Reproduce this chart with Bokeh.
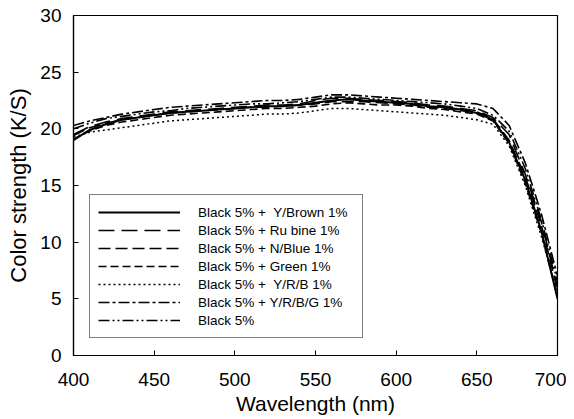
from bokeh.plotting import figure
from bokeh.models import Legend, LegendItem, Range1d, FixedTicker
from bokeh.embed import file_html
from bokeh.resources import INLINE

wavelength = list(range(400, 701, 10))

y_brown = [19.0, 19.9, 20.4, 20.8, 21.0, 21.2, 21.4, 21.5, 21.6, 21.7, 21.8,
           21.9, 22.0, 22.0, 22.1, 22.3, 22.5, 22.6, 22.5, 22.4, 22.3,
           22.2, 22.0, 21.9, 21.7, 21.4, 20.8, 18.8, 15.5, 11.0, 5.0]
rubine = [19.5, 20.2, 20.6, 20.9, 21.1, 21.3, 21.5, 21.6, 21.7, 21.8, 21.9,
          22.0, 22.1, 22.1, 22.2, 22.5, 22.7, 22.7, 22.6, 22.5, 22.4,
          22.3, 22.1, 22.0, 21.8, 21.6, 21.0, 19.5, 16.0, 11.8, 6.0]
n_blue = [19.4, 20.1, 20.5, 20.8, 21.0, 21.2, 21.4, 21.5, 21.6, 21.7, 21.8,
          21.9, 21.9, 22.0, 22.1, 22.2, 22.4, 22.4, 22.4, 22.3, 22.2,
          22.1, 21.9, 21.8, 21.6, 21.5, 20.9, 19.0, 15.8, 11.5, 5.8]
green = [19.1, 19.8, 20.3, 20.6, 20.8, 21.0, 21.2, 21.3, 21.4, 21.5, 21.6,
         21.7, 21.8, 21.8, 21.9, 22.0, 22.2, 22.3, 22.2, 22.1, 22.1,
         22.0, 21.8, 21.7, 21.5, 21.3, 20.7, 18.7, 15.2, 10.8, 5.2]
yrb = [19.3, 19.7, 19.9, 20.1, 20.3, 20.5, 20.7, 20.8, 20.9, 21.0, 21.1,
       21.2, 21.3, 21.3, 21.4, 21.6, 21.8, 21.8, 21.7, 21.6, 21.5,
       21.4, 21.3, 21.2, 21.0, 20.8, 20.4, 18.5, 15.0, 10.5, 5.5]
yrbg = [20.3, 20.7, 21.0, 21.3, 21.5, 21.7, 21.9, 22.0, 22.1, 22.2, 22.3,
        22.4, 22.5, 22.5, 22.6, 22.8, 23.0, 23.0, 22.9, 22.8, 22.7,
        22.6, 22.5, 22.4, 22.3, 22.2, 21.8, 20.3, 17.0, 12.5, 7.0]
black5 = [20.0, 20.5, 20.9, 21.1, 21.3, 21.5, 21.6, 21.8, 21.9, 22.0, 22.1,
          22.2, 22.2, 22.3, 22.4, 22.6, 22.8, 22.8, 22.7, 22.6, 22.5,
          22.4, 22.3, 22.2, 22.0, 21.8, 21.2, 19.8, 16.5, 12.0, 6.5]

labels = ["Black 5% +  Y/Brown 1%", "Black 5% + Ru bine 1%", "Black 5% + N/Blue 1%",
          "Black 5% + Green 1%", "Black 5% +  Y/R/B 1%", "Black 5% + Y/R/B/G 1%",
          "Black 5%"]
series = [y_brown, rubine, n_blue, green, yrb, yrbg, black5]
dashes = ["solid", "16 7", "12 5", "8 4", "2 3", "11 3 3 3", "11 3 2 3 2 3"]
widths = [2, 1.6, 1.6, 1.6, 1.5, 1.6, 1.6]

x_ticks = [400, 450, 500, 550, 600, 650, 700]
y_ticks = [0, 5, 10, 15, 20, 25, 30]

p = figure(width=566, height=419, output_backend="svg", toolbar_location=None,
           x_range=Range1d(400, 700), y_range=Range1d(0, 30),
           min_border_left=73, min_border_right=9, min_border_top=15, min_border_bottom=64)
p.background_fill_color = "white"
p.border_fill_color = "white"
p.outline_line_color = "black"
p.outline_line_width = 1.2
p.xgrid.visible = False
p.ygrid.visible = False

items = []
for lab, ys, d, w in zip(labels, series, dashes, widths):
    r = p.line(wavelength, ys, line_color="black", line_width=w, line_dash=d)
    items.append(LegendItem(label=lab, renderers=[r]))

for ax in (p.xaxis[0], p.yaxis[0]):
    ax.major_tick_in = 5
    ax.major_tick_out = 0
    ax.minor_tick_line_color = None
    ax.axis_line_color = "black"
    ax.axis_line_width = 1.2
    ax.major_tick_line_color = "black"
    ax.major_label_text_font = "Liberation Sans"
    ax.major_label_text_font_size = "19px"
    ax.major_label_text_color = "black"
    ax.axis_label_text_font = "Liberation Sans"
    ax.axis_label_text_font_style = "normal"
    ax.axis_label_text_color = "black"

p.xaxis.axis_label_text_font_size = "21px"
p.yaxis.axis_label_text_font_size = "22px"
p.xaxis.ticker = FixedTicker(ticks=x_ticks)
p.yaxis.ticker = FixedTicker(ticks=y_ticks)
p.xaxis.axis_label = "Wavelength (nm)"
p.yaxis.axis_label = "Color strength (K/S)"
p.xaxis.major_label_standoff = 17
p.yaxis.major_label_standoff = 12
p.xaxis.axis_label_standoff = 3
p.yaxis.axis_label_standoff = 6

legend = Legend(items=items, location=(16, 17))
legend.border_line_color = "black"
legend.border_line_width = 1.5
legend.background_fill_color = "white"
legend.label_text_font = "Liberation Sans"
legend.label_text_font_size = "13.5px"
legend.label_text_color = "black"
legend.glyph_width = 82
legend.glyph_height = 18
legend.label_height = 18
legend.label_width = 156
legend.label_standoff = 18
legend.spacing = 0
legend.padding = 8
legend.margin = 0
legend.label_text_baseline = "middle"
p.add_layout(legend, "center")

open("out.html", "w").write(file_html(p, INLINE))
